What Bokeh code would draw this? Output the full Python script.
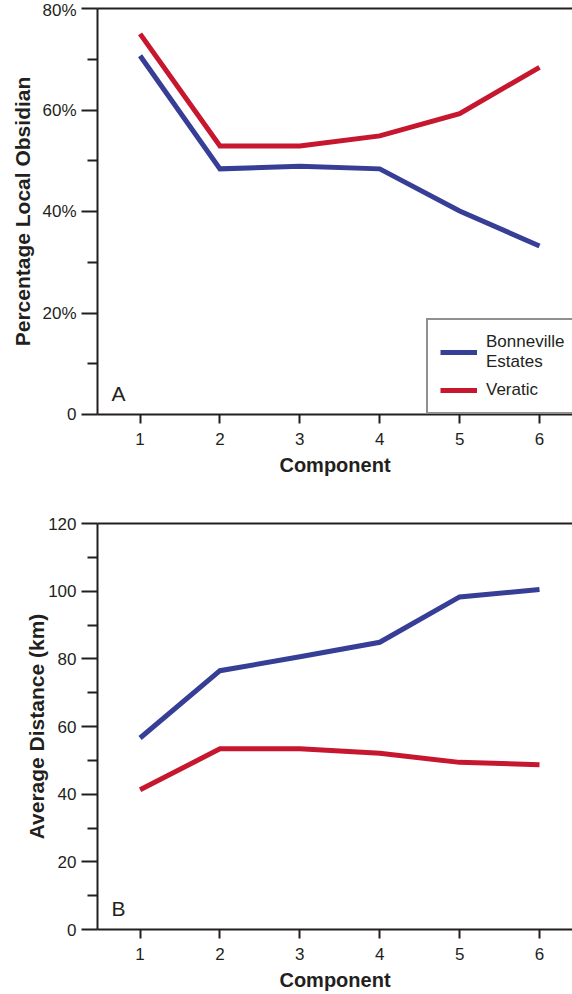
from bokeh.plotting import figure
from bokeh.models import Range1d, FixedTicker, LinearAxis, Legend, LegendItem, Label
from bokeh.layouts import column
from bokeh.embed import file_html
from bokeh.resources import INLINE

# ---- data ----
components = [1, 2, 3, 4, 5, 6]
pct_bonneville = [70.7, 48.4, 48.9, 48.4, 40.1, 33.2]
pct_veratic = [75.0, 52.9, 52.9, 54.9, 59.3, 68.4]
dist_bonneville = [56.6, 76.5, 80.6, 84.9, 98.3, 100.5]
dist_veratic = [41.3, 53.4, 53.4, 52.1, 49.4, 48.7]

pct_ticks = [0, 20, 40, 60, 80]
pct_tick_labels = ["0", "20%", "40%", "60%", "80%"]
pct_minor = [10, 30, 50, 70]
dist_ticks = [0, 20, 40, 60, 80, 100, 120]
dist_tick_labels = ["0", "20", "40", "60", "80", "100", "120"]
dist_minor = [10, 30, 50, 70, 90, 110]
series_names = ["Bonneville\nEstates", "Veratic"]
panel_letters = ["A", "B"]
x_title = "Component"
y_titles = ["Percentage Local Obsidian", "Average Distance (km)"]

BLUE = "#373e96"
RED = "#c6172f"
INK = "#231f20"
FONT = "Liberation Sans"


def make_panel(yb, yv, ticks, tick_labels, minor, y_title, letter, height,
               top, bottom, y_standoff, with_legend):
    p = figure(width=572, height=height, output_backend="svg", toolbar_location=None,
               x_range=Range1d(0.467, 6.413), y_range=Range1d(ticks[0], ticks[-1]),
               min_border_left=97, min_border_right=0, min_border_top=top,
               min_border_bottom=bottom)
    p.outline_line_color = None
    p.grid.visible = False
    p.background_fill_color = "white"
    p.border_fill_color = "white"

    xa = p.xaxis[0]
    xa.ticker = FixedTicker(ticks=components)
    xa.axis_line_width = 2
    xa.axis_line_color = INK
    xa.major_tick_line_width = 2
    xa.major_tick_line_color = INK
    xa.major_tick_out = 9
    xa.major_tick_in = 0
    xa.minor_tick_line_color = None
    xa.major_label_text_font = FONT
    xa.major_label_text_font_size = "17px"
    xa.major_label_text_color = INK
    xa.major_label_standoff = 9
    xa.axis_label = x_title
    xa.axis_label_text_font = FONT
    xa.axis_label_text_font_size = "20px"
    xa.axis_label_text_font_style = "bold"
    xa.axis_label_text_color = INK
    xa.axis_label_standoff = 6

    ya = p.yaxis[0]
    ya.ticker = FixedTicker(ticks=ticks, minor_ticks=minor)
    ya.major_label_overrides = {t: l for t, l in zip(ticks, tick_labels)}
    ya.axis_line_width = 2
    ya.axis_line_color = INK
    ya.major_tick_line_width = 2
    ya.major_tick_line_color = INK
    ya.major_tick_out = 16
    ya.major_tick_in = 0
    ya.minor_tick_line_width = 2
    ya.minor_tick_line_color = INK
    ya.minor_tick_out = 10
    ya.minor_tick_in = 0
    ya.major_label_text_font = FONT
    ya.major_label_text_font_size = "17px"
    ya.major_label_text_color = INK
    ya.major_label_standoff = 5
    ya.axis_label = y_title
    ya.axis_label_text_font = FONT
    ya.axis_label_text_font_size = "21px"
    ya.axis_label_text_font_style = "bold"
    ya.axis_label_text_color = INK
    ya.axis_label_standoff = y_standoff

    top_axis = LinearAxis(ticker=FixedTicker(ticks=[]), major_label_text_font_size="0px",
                          major_tick_out=0, major_tick_in=0, minor_tick_out=0,
                          minor_tick_in=0, axis_line_width=2, axis_line_color=INK,
                          major_label_standoff=0)
    p.add_layout(top_axis, "above")

    r1 = p.line(components, yb, line_color=BLUE, line_width=5, line_join="miter")
    r2 = p.line(components, yv, line_color=RED, line_width=5, line_join="miter")

    if with_legend:
        legend = Legend(items=[LegendItem(label=series_names[0], renderers=[r1]),
                               LegendItem(label=series_names[1], renderers=[r2])],
                        location=(329, 0), margin=0, padding=12, spacing=8,
                        glyph_width=37, label_standoff=9,
                        label_text_font=FONT, label_text_font_size="17px",
                        label_text_color=INK, border_line_color=INK,
                        border_line_width=2, background_fill_color="white",
                        background_fill_alpha=1)
        p.add_layout(legend)

    p.add_layout(Label(x=14, y=21, x_units="screen", y_units="screen", text=letter,
                       text_font=FONT, text_font_size="21px", text_color=INK,
                       text_baseline="alphabetic"))
    return p


p1 = make_panel(pct_bonneville, pct_veratic, pct_ticks, pct_tick_labels, pct_minor,
                y_titles[0], panel_letters[0], 497, 8, 83, 5, True)
p2 = make_panel(dist_bonneville, dist_veratic, dist_ticks, dist_tick_labels, dist_minor,
                y_titles[1], panel_letters[1], 497, 26, 65, -3, False)

layout = column(p1, p2, spacing=0)
open("out.html", "w").write(file_html(layout, INLINE))
